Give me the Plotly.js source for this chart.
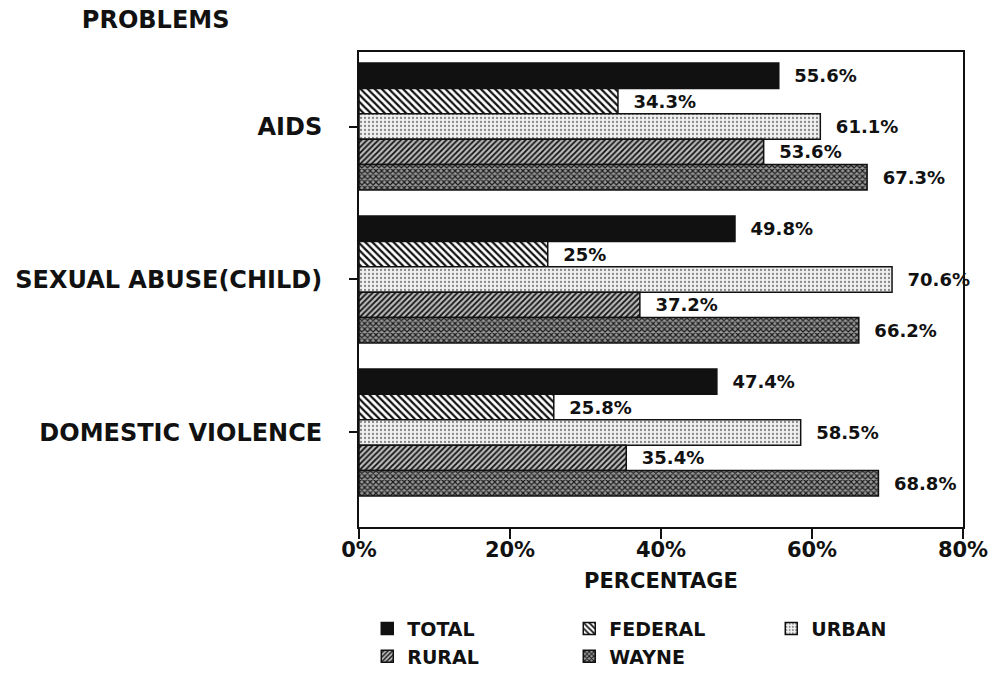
<!DOCTYPE html>
<html>
<head>
<meta charset="utf-8">
<script src="https://cdn.plot.ly/plotly-3.0.1.min.js"></script>
<style>html,body{margin:0;padding:0;background:#fff;}#chart{width:998px;height:685px;}</style>
</head>
<body>
<div id="chart"></div>
<script>
const categories = ["AIDS", "SEXUAL ABUSE(CHILD)", "DOMESTIC VIOLENCE"];
const seriesNames = ["TOTAL", "FEDERAL", "URBAN", "RURAL", "WAYNE"];
const total   = [55.6, 49.8, 47.4];
const federal = [34.3, 25, 25.8];
const urban   = [61.1, 70.6, 58.5];
const rural   = [53.6, 37.2, 35.4];
const wayne   = [67.3, 66.2, 68.8];
const xTickVals = [0, 20, 40, 60, 80];
const xTickText = ["0%", "20%", "40%", "60%", "80%"];

const seriesValues = [total, federal, urban, rural, wayne];
const patterns = [
  {shape: "", fgcolor: "#111", bgcolor: "#111"},
  {shape: "\\", fgcolor: "#111", bgcolor: "#fff", size: 5, solidity: 0.45},
  {shape: ".", fgcolor: "#888", bgcolor: "#f0f0f0", size: 4, solidity: 0.25},
  {shape: "/", fgcolor: "#111", bgcolor: "#bbb", size: 4, solidity: 0.45},
  {shape: "x", fgcolor: "#1a1a1a", bgcolor: "#999", size: 4, solidity: 0.5}
];
const fills = ["#111", "#fff", "#f0f0f0", "#bbb", "#999"];
const FONT = "DejaVu Sans";

const traces = seriesNames.map((name, i) => ({
  type: "bar",
  orientation: "h",
  name: name,
  y: categories,
  x: seriesValues[i],
  texttemplate: "  %{x}%",
  textposition: "outside",
  constraintext: "none",
  cliponaxis: false,
  textfont: {family: FONT, size: 18, weight: "bold", color: "#111"},
  marker: {
    color: fills[i],
    pattern: patterns[i],
    line: {color: "#111", width: 1.5}
  },
  hoverinfo: "skip"
}));

const layout = {
  width: 998,
  height: 685,
  margin: {l: 359, r: 35, t: 52, b: 158, pad: 0},
  paper_bgcolor: "#fff",
  plot_bgcolor: "#fff",
  barmode: "group",
  bargap: 0.17,
  bargroupgap: 0,
  font: {family: FONT, color: "#111"},
  title: {
    text: "PROBLEMS",
    font: {family: FONT, size: 24, weight: "bold", color: "#111"},
    xref: "container", yref: "container",
    x: 0.082, xanchor: "left",
    y: 0.972, yanchor: "middle"
  },
  xaxis: {
    range: [0, 80],
    tickvals: xTickVals,
    ticktext: xTickText,
    ticks: "outside",
    ticklen: 10,
    tickwidth: 2,
    tickcolor: "#111",
    ticklabelstandoff: -7,
    showline: true,
    linewidth: 2,
    linecolor: "#111",
    mirror: true,
    showgrid: false,
    zeroline: false,
    tickfont: {family: FONT, size: 21, weight: "bold", color: "#111"},
    title: {text: "PERCENTAGE", standoff: 12, font: {family: FONT, size: 21, weight: "bold", color: "#111"}}
  },
  yaxis: {
    autorange: false,
    range: [2.618, -0.487],
    type: "category",
    ticks: "outside",
    ticklen: 8,
    tickwidth: 2,
    tickcolor: "#111",
    ticklabelstandoff: 22,
    showline: true,
    linewidth: 2,
    linecolor: "#111",
    mirror: true,
    showgrid: false,
    zeroline: false,
    tickfont: {family: FONT, size: 24, weight: "bold", color: "#111"}
  },
  showlegend: true,
  legend: {
    orientation: "h",
    xref: "container", yref: "container",
    x: 0.368, xanchor: "left",
    y: 0.11, yanchor: "top",
    entrywidth: 157,
    traceorder: "normal",
    font: {family: FONT, size: 19, weight: "bold", color: "#111"},
    bgcolor: "rgba(0,0,0,0)"
  }
};

Plotly.newPlot("chart", traces, layout, {displayModeBar: false, staticPlot: true});
</script>
</body>
</html>
